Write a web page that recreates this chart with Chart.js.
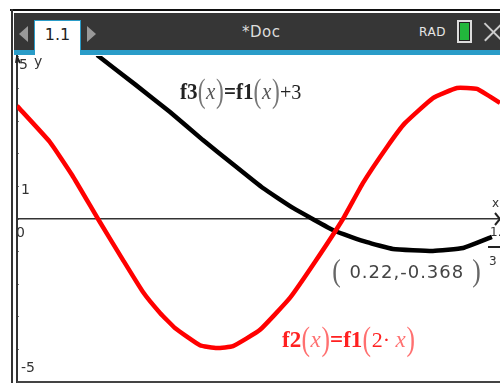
<!DOCTYPE html>
<html>
<head>
<meta charset="utf-8">
<script src="https://cdn.jsdelivr.net/npm/chart.js@4"></script>
<style>
body { margin: 0; background: #fff; }
#wrap { position: relative; width: 500px; height: 383px; overflow: hidden; font-family: "DejaVu Sans", sans-serif; }
#wrap div { position: absolute; }
canvas { position: absolute; left: 0; top: 0; }
.txt { white-space: nowrap; }
.formula { font-family: "Liberation Serif", serif; font-size: 22px; line-height: 30px; white-space: nowrap; }
.formula b { font-size: 23px; }
.formula i { font-size: 23px; color: #555; }
.formula .p { font-size: 34px; color: #777; vertical-align: -3px; transform: scaleX(.75); display: inline-block; margin: 0 -1px; }
.red b, .red { color: #ff2020; }
.red i, .red .p { color: #ff7070; }
.point .p { font-size: 32px; color: #666; font-family: "Liberation Serif", serif; vertical-align: -3px; font-weight: normal; transform: scaleX(.8); display: inline-block; }
</style>
</head>
<body>
<div id="wrap">
  <canvas id="myChart" width="500" height="383"></canvas>

  <div style="left:0;top:0;width:500px;height:9px;background:#fff"></div>
  <div style="left:10px;top:9px;width:490px;height:2px;background:#111"></div>
  <div style="left:11px;top:9px;width:2px;height:374px;background:#333"></div>
  <div style="left:17px;top:381px;width:483px;height:1.5px;background:#444"></div>
  <div style="left:14px;top:13px;width:486px;height:37px;background:#363636"></div>
  <div style="left:14px;top:50px;width:486px;height:5px;background:#2a9cc8"></div>
  <div style="left:34px;top:20px;width:47px;height:35px;background:#fff;border:solid #2a9cc8;border-width:1px 1px 0 1px;box-sizing:border-box"></div>
  <div style="left:19px;top:26px;width:0;height:0;border-style:solid;border-width:8px 9px 8px 0;border-color:transparent #999 transparent transparent"></div>
  <div style="left:87px;top:26px;width:0;height:0;border-style:solid;border-width:8px 0 8px 9px;border-color:transparent transparent transparent #999"></div>
  <div class="txt" style="left:34px;top:25px;width:47px;text-align:center;font-size:16px;color:#222">1.1</div>
  <div class="txt" style="left:242px;top:23px;font-size:15px;color:#ddd;letter-spacing:.5px">*Doc</div>
  <div class="txt" style="left:419px;top:25px;font-size:12px;color:#e6e6e6;letter-spacing:.6px">RAD</div>
  <div style="left:457px;top:20px;width:15px;height:23px;box-sizing:border-box;border:2px solid #ddd;background:#22b83c;outline:1px solid #222;outline-offset:-3px"></div>
  <div style="left:481px;top:31px;width:25px;height:1.5px;background:#ccc;transform:rotate(45deg)"></div>
  <div style="left:481px;top:31px;width:25px;height:1.5px;background:#ccc;transform:rotate(-45deg)"></div>

  <div class="formula" style="left:180px;top:76px;color:#222;transform:scaleX(.915);transform-origin:left center"><b>f3</b><span class="p">(</span><i>x</i><span class="p">)</span><b>=f1</b><span class="p">(</span><i>x</i><span class="p">)</span>+3</div>
  <div class="formula red" style="left:282px;top:324px"><b>f2</b><span class="p">(</span><i>x</i><span class="p">)</span><b>=f1</b><span class="p">(</span>2&middot; <i>x</i><span class="p">)</span></div>
  <div class="txt point" style="left:331px;top:252px;font-size:18px;color:#444;letter-spacing:1px"><span class="p">(</span> 0.22,-0.368 <span class="p">)</span></div>
</div>

<script>
// curve f2 (red)
const redX = [0, 0.0228, 0.0381, 0.0561, 0.0734, 0.0872, 0.099, 0.1093, 0.1266, 0.1384, 0.1495, 0.1682, 0.1889, 0.2062, 0.2256, 0.2394, 0.2561, 0.2685, 0.2879, 0.3045, 0.3183, 0.3343];
const redY = [3.47, 2.36, 1.35, 0, -1.26, -2.24, -2.88, -3.34, -3.87, -3.96, -3.9, -3.4, -2.42, -1.32, 0, 1.1, 2.21, 2.94, 3.71, 4.02, 3.99, 3.56];

// curve f3 (black)
const blackX = [0.0554, 0.0817, 0.1059, 0.1287, 0.1495, 0.1702, 0.191, 0.2201, 0.2422, 0.2602, 0.2879, 0.3087, 0.3287];
const blackY = [5.03, 4.13, 3.28, 2.42, 1.68, 0.95, 0.34, -0.368, -0.71, -0.92, -0.98, -0.89, -0.55];

// tick values on the y axis, only some of them have a label
const yTickValues = [5, 4, 3, 2, 1, 0, -1, -2, -3, -4, -5];
const yTickLabels = ['5', '1', '-5'];
const xOriginLabel = '0';
const xEndLabelTop = '1.';
const xEndLabelBottom = '3';
const yAxisName = 'y';
const xAxisName = 'x';

function toPoints(xs, ys) {
    return xs.map(function (x, i) {
        return { x: x, y: ys[i] };
    });
}

// labels and arrow heads sit inside the plot on this screen, so they go by hand
const axisExtras = {
    id: 'axisExtras',
    afterDraw: function (chart) {
        const ctx = chart.ctx;
        const sx = chart.scales.x;
        const sy = chart.scales.y;
        const x0 = sx.getPixelForValue(0);
        const y0 = sy.getPixelForValue(0);
        const right = sx.right;

        ctx.save();
        ctx.fillStyle = '#333';
        ctx.textBaseline = 'middle';
        ctx.textAlign = 'left';
        ctx.font = '14px "DejaVu Sans"';
        ctx.fillText(yTickLabels[0], x0 + 2, sy.getPixelForValue(5) + 9);
        ctx.fillText(yTickLabels[1], x0 + 4, sy.getPixelForValue(1) + 4);
        ctx.fillText(yTickLabels[2], x0 + 4, sy.getPixelForValue(-5) - 14);
        ctx.fillText(xOriginLabel, x0 - 1, y0 + 14);
        ctx.fillText(yAxisName, x0 + 17, sy.getPixelForValue(5) + 6);
        ctx.font = '12px "DejaVu Sans"';
        ctx.fillText(xAxisName, right - 8, y0 - 15);
        ctx.fillText(xEndLabelTop, right - 10, y0 + 14);
        ctx.fillText(xEndLabelBottom, right - 11, y0 + 43);

        // fraction bar and arrows
        ctx.strokeStyle = '#222';
        ctx.lineWidth = 2;
        ctx.beginPath();
        ctx.moveTo(right - 12, y0 + 28);
        ctx.lineTo(right, y0 + 28);
        ctx.stroke();
        ctx.beginPath();
        ctx.moveTo(right - 5, y0 - 6);
        ctx.lineTo(right, y0);
        ctx.lineTo(right - 5, y0 + 6);
        ctx.stroke();
        ctx.beginPath();
        ctx.moveTo(x0 - 1, sy.top + 7);
        ctx.lineTo(x0, sy.top + 1);
        ctx.lineTo(x0 + 3, sy.top + 7);
        ctx.stroke();
        ctx.restore();
    }
};

new Chart(document.getElementById('myChart').getContext('2d'), {
    type: 'line',
    data: {
        datasets: [
            {
                label: 'f2',
                data: toPoints(redX, redY),
                borderColor: '#ff0000',
                borderWidth: 4.5,
                pointRadius: 0,
                tension: 0.12
            },
            {
                label: 'f3',
                data: toPoints(blackX, blackY),
                borderColor: '#000000',
                borderWidth: 4.5,
                pointRadius: 0,
                tension: 0.12
            }
        ]
    },
    options: {
        responsive: false,
        animation: false,
        layout: { padding: { left: 17, top: 56, right: 0, bottom: 1 } },
        plugins: { legend: { display: false }, tooltip: { enabled: false } },
        scales: {
            x: {
                type: 'linear',
                min: 0,
                max: 0.3343,
                position: { y: 0 },
                border: { color: '#333', width: 1.5 },
                grid: { display: false },
                ticks: { display: false }
            },
            y: {
                type: 'linear',
                min: -5,
                max: 5,
                position: { x: 0 },
                border: { color: '#333', width: 2 },
                grid: { drawOnChartArea: false, drawTicks: true, tickLength: -3, color: '#777' },
                afterBuildTicks: function (axis) {
                    axis.ticks = yTickValues.map(function (v) {
                        return { value: v };
                    });
                },
                ticks: { display: false }
            }
        }
    },
    plugins: [axisExtras]
});
</script>
</body>
</html>
